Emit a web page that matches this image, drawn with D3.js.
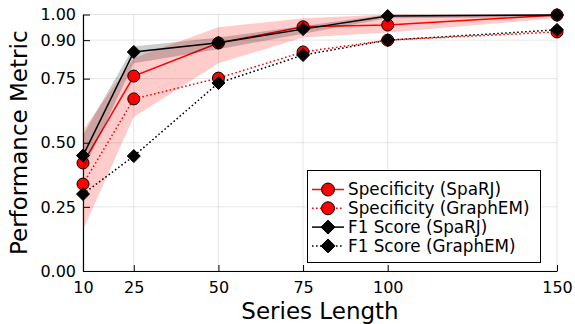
<!DOCTYPE html>
<html>
<head>
<meta charset="utf-8">
<script src="https://cdn.jsdelivr.net/npm/d3@7"></script>
<style>
html, body { margin: 0; padding: 0; background: #fff; }
svg { display: block; font-family: "DejaVu Sans", sans-serif; }
</style>
</head>
<body>
<svg id="chart" width="575" height="324"></svg>
<script>
// ---- data ----
const seriesLength = [10, 25, 50, 75, 100, 150];
const specSpaRJ   = [0.421, 0.760, 0.889, 0.952, 0.959, 0.998];
const specGraphEM = [0.339, 0.671, 0.752, 0.854, 0.900, 0.932];
const f1SpaRJ     = [0.450, 0.854, 0.890, 0.943, 0.994, 0.998];
const f1GraphEM   = [0.300, 0.448, 0.733, 0.842, 0.900, 0.940];
const specSpaRJLower = [0.16, 0.60, 0.81, 0.91, 0.93, 0.985];
const specSpaRJUpper = [0.55, 0.83, 0.95, 0.985, 1.0, 1.0];
const f1SpaRJLower   = [0.39, 0.81, 0.865, 0.925, 0.985, 0.99];
const f1SpaRJUpper   = [0.53, 0.875, 0.91, 0.955, 1.0, 1.0];
const xTicks = [10, 25, 50, 75, 100, 150];
const yTicks = [0, 0.25, 0.5, 0.75, 0.9, 1.0];
const yTickLabels = ["0.00", "0.25", "0.50", "0.75", "0.90", "1.00"];
const legendLabels = ["Specificity (SpaRJ)", "Specificity (GraphEM)", "F1 Score (SpaRJ)", "F1 Score (GraphEM)"];

// ---- layout ----
const svg = d3.select("#chart");
const x = d3.scaleLinear().domain([10, 150]).range([83, 557]);
const y = d3.scaleLinear().domain([0, 1]).range([271, 14.5]);

// grid
const grid = svg.append("g");
grid.selectAll("line.v").data(xTicks).enter().append("line")
  .attr("x1", d => x(d)).attr("x2", d => x(d))
  .attr("y1", y(0)).attr("y2", y(1))
  .attr("stroke", "#000").attr("stroke-opacity", 0.1).attr("stroke-width", 1);
grid.selectAll("line.h").data(yTicks).enter().append("line")
  .attr("x1", x(10)).attr("x2", x(150))
  .attr("y1", d => y(d)).attr("y2", d => y(d))
  .attr("stroke", "#000").attr("stroke-opacity", 0.1).attr("stroke-width", 1);

// axes
const xAxis = d3.axisBottom(x).tickValues(xTicks).tickSizeInner(-6).tickSizeOuter(0).tickPadding(11);
const yAxis = d3.axisLeft(y).tickValues(yTicks).tickFormat((d, i) => yTickLabels[i]).tickSizeInner(-7).tickSizeOuter(0).tickPadding(7);
const gx = svg.append("g").attr("transform", `translate(0,${y(0)})`).call(xAxis);
const gy = svg.append("g").attr("transform", `translate(${x(10)},0)`).call(yAxis);
[gx, gy].forEach(g => {
  g.select(".domain").attr("stroke", "#000").attr("stroke-width", 1.2);
  g.selectAll(".tick line").attr("stroke", "#000").attr("stroke-width", 1);
  g.selectAll(".tick text").attr("font-family", "DejaVu Sans").attr("font-size", 16).attr("fill", "#000");
});

// axis labels
svg.append("text").attr("x", 320).attr("y", 319).attr("text-anchor", "middle")
  .attr("font-size", 23).text("Series Length");
svg.append("text").attr("transform", `translate(27,${(y(0) + y(1)) / 2}) rotate(-90)`)
  .attr("text-anchor", "middle").attr("font-size", 23).text("Performance Metric");

const plot = svg.append("g");
const area = (lo, hi) => d3.area().x((d, i) => x(seriesLength[i])).y0((d, i) => y(lo[i])).y1((d, i) => y(hi[i]))(seriesLength);
const line = vals => d3.line().x((d, i) => x(seriesLength[i])).y((d, i) => y(vals[i]))(seriesLength);
const diamond = (cx, cy, r) => `M${cx},${cy - r}L${cx + r},${cy}L${cx},${cy + r}L${cx - r},${cy}Z`;

function drawSeries(vals, color, dash, marker) {
  plot.append("path").attr("d", line(vals)).attr("fill", "none")
    .attr("stroke", color).attr("stroke-width", 1.5)
    .attr("stroke-dasharray", dash ? "1.6,2.4" : null);
  vals.forEach((v, i) => {
    if (marker === "circle") {
      plot.append("circle").attr("cx", x(seriesLength[i])).attr("cy", y(v)).attr("r", 6)
        .attr("fill", "red").attr("stroke", "#000").attr("stroke-width", 1);
    } else {
      plot.append("path").attr("d", diamond(x(seriesLength[i]), y(v), 6.5))
        .attr("fill", "#000").attr("stroke", "#000").attr("stroke-width", 1);
    }
  });
}

// series 1: specificity SpaRJ with ribbon
plot.append("path").attr("d", area(specSpaRJLower, specSpaRJUpper)).attr("fill", "red").attr("fill-opacity", 0.2);
drawSeries(specSpaRJ, "red", false, "circle");
// series 2
drawSeries(specGraphEM, "red", true, "circle");
// series 3: F1 SpaRJ with ribbon
plot.append("path").attr("d", area(f1SpaRJLower, f1SpaRJUpper)).attr("fill", "#000").attr("fill-opacity", 0.2);
drawSeries(f1SpaRJ, "#000", false, "diamond");
// series 4
drawSeries(f1GraphEM, "#000", true, "diamond");

// legend
const lg = svg.append("g");
lg.append("rect").attr("x", 307.5).attr("y", 170.5).attr("width", 233).attr("height", 92)
  .attr("fill", "#fff").attr("stroke", "#000").attr("stroke-width", 1);
const legendStyles = [
  {color: "red", dash: false, marker: "circle"},
  {color: "red", dash: true, marker: "circle"},
  {color: "#000", dash: false, marker: "diamond"},
  {color: "#000", dash: true, marker: "diamond"}
];
legendLabels.forEach((lab, i) => {
  const cy = 189.5 + i * 18.8;
  const st = legendStyles[i];
  lg.append("line").attr("x1", 312).attr("x2", 344).attr("y1", cy).attr("y2", cy)
    .attr("stroke", st.color).attr("stroke-width", 1.5).attr("stroke-dasharray", st.dash ? "1.6,2.4" : null);
  if (st.marker === "circle") {
    lg.append("circle").attr("cx", 328).attr("cy", cy).attr("r", 6.5)
      .attr("fill", "red").attr("stroke", "#000").attr("stroke-width", 1);
  } else {
    lg.append("path").attr("d", diamond(328, cy, 7)).attr("fill", "#000").attr("stroke", "#000");
  }
  lg.append("text").attr("x", 348).attr("y", cy).attr("dy", "0.35em")
    .attr("font-size", 16.8).text(lab);
});
</script>
</body>
</html>
